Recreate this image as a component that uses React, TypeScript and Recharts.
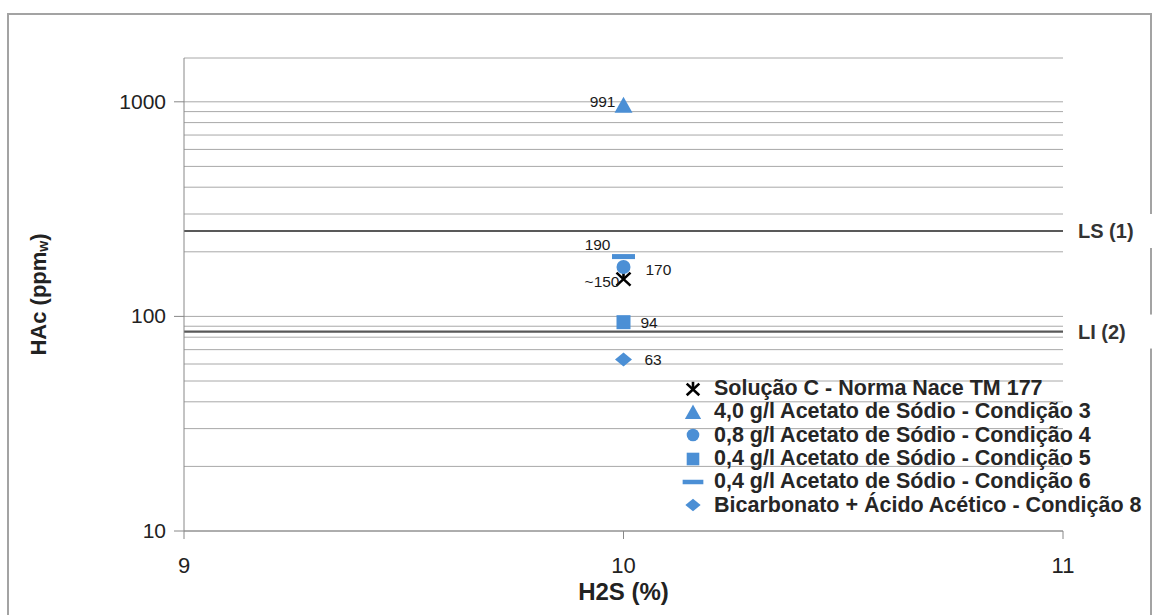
import React from "react";
import {
  ScatterChart,
  Scatter,
  XAxis,
  YAxis,
  CartesianGrid,
  ReferenceLine,
  Legend,
} from "recharts";

// H2S content shared by every test
const h2sPercent = 10;

const seriesNames = [
  "Solução C - Norma Nace TM 177",
  "4,0 g/l Acetato de Sódio - Condição 3",
  "0,8 g/l Acetato de Sódio - Condição 4",
  "0,4 g/l Acetato de Sódio - Condição 5",
  "0,4 g/l Acetato de Sódio - Condição 6",
  "Bicarbonato + Ácido Acético - Condição 8",
];
const hacValues = [150, 991, 170, 94, 190, 63];
const valueLabels = ["~150", "991", "170", "94", "190", "63"];
const markerKinds = ["star", "triangle", "circle", "square", "dash", "diamond"];

const limitValues = [250, 85];
const limitLabels = ["LS (1)", "LI (2)"];

const xTicks = [9, 10, 11];
const yMajorTicks = [10, 100, 1000];
const yTicks = [
  10, 20, 30, 40, 50, 60, 70, 80, 90,
  100, 200, 300, 400, 500, 600, 700, 800, 900,
  1000, 1600,
];

const BLUE = "#4B8FD5";
const FONT = "'Liberation Sans', Arial, sans-serif";

// label offsets around each point (dx, dy, anchor)
const labelPlacement: Record<string, { dx: number; dy: number; anchor: "start" | "end" }> = {
  "~150": { dx: -4, dy: 8, anchor: "end" },
  "991": { dx: -8, dy: 4, anchor: "end" },
  "170": { dx: 22, dy: 8, anchor: "start" },
  "94": { dx: 17, dy: 6, anchor: "start" },
  "190": { dx: -13, dy: -7, anchor: "end" },
  "63": { dx: 21, dy: 6, anchor: "start" },
};

const drawMarker = (kind: string, cx: number, cy: number, s = 1) => {
  switch (kind) {
    case "star":
      return (
        <g stroke="#000" strokeWidth={2.6} strokeLinecap="butt">
          <line x1={cx - 7 * s} y1={cy - 6 * s} x2={cx + 7 * s} y2={cy + 7 * s} />
          <line x1={cx + 7 * s} y1={cy - 6 * s} x2={cx - 7 * s} y2={cy + 7 * s} />
          <line x1={cx} y1={cy - 8 * s} x2={cx} y2={cy + 1 * s} />
        </g>
      );
    case "triangle":
      return (
        <polygon
          points={`${cx},${cy - 6 * s} ${cx - 9 * s},${cy + 10 * s} ${cx + 9 * s},${cy + 10 * s}`}
          fill={BLUE}
        />
      );
    case "circle":
      return <circle cx={cx} cy={cy} r={7 * s} fill={BLUE} />;
    case "square":
      return <rect x={cx - 7 * s} y={cy - 7 * s} width={14 * s} height={14 * s} fill={BLUE} />;
    case "dash":
      return <rect x={cx - 11.5 * s} y={cy - 2.5 * s} width={23 * s} height={5 * s} fill={BLUE} />;
    default:
      return (
        <polygon
          points={`${cx},${cy - 7 * s} ${cx + 8.5 * s},${cy} ${cx},${cy + 7 * s} ${cx - 8.5 * s},${cy}`}
          fill={BLUE}
        />
      );
  }
};

const YTick = (props: any) => {
  const { x, y, payload } = props;
  if (!yMajorTicks.includes(payload.value)) return <g />;
  return (
    <g>
      <line x1={x - 10} y1={y} x2={x} y2={y} stroke="#888" />
      <text x={x - 18} y={y + 7} textAnchor="end" fontSize={21} fill="#222" fontFamily={FONT}>
        {payload.value}
      </text>
    </g>
  );
};

const XTick = (props: any) => {
  const { x, y, payload } = props;
  return (
    <g>
      <line x1={x} y1={y} x2={x} y2={y + 8} stroke="#888" />
      <text x={x} y={y + 42} textAnchor="middle" fontSize={22} fill="#222" fontFamily={FONT}>
        {payload.value}
      </text>
    </g>
  );
};

const renderLegend = () => (
  <div style={{ fontFamily: FONT, fontWeight: "bold", fontSize: 21.5, color: "#262626" }}>
    {seriesNames.map((name, i) => (
      <div key={name} style={{ display: "flex", alignItems: "center", height: 23.3, whiteSpace: "nowrap" }}>
        <svg width={26} height={22} style={{ marginRight: 8, flexShrink: 0 }}>
          {drawMarker(markerKinds[i], 13, markerKinds[i] === "triangle" ? 9 : 11, 0.9)}
        </svg>
        <span>{name}</span>
      </div>
    ))}
  </div>
);

const limitLabel = (text: string) => (props: any) => {
  const { viewBox } = props;
  const x = viewBox.x + viewBox.width;
  const y = viewBox.y;
  return (
    <g>
      <rect x={x + 6} y={y - 17} width={92} height={34} fill="#fff" />
      <text x={x + 15} y={y + 7} fontSize={20} fontWeight="bold" fill="#333" fontFamily={FONT}>
        {text}
      </text>
    </g>
  );
};

export default function App() {
  return (
    <div style={{ position: "absolute", left: 0, top: 0, width: 1156, height: 615, background: "#fff", overflow: "hidden" }}>
      <div
        style={{
          position: "absolute",
          left: 7,
          top: 13,
          width: 1141,
          height: 700,
          border: "2px solid #a3a3a3",
        }}
      />
      <div style={{ position: "absolute", left: 0, top: 0 }}>
        <ScatterChart width={1156} height={615} margin={{ top: 58, right: 93, bottom: 0, left: 0 }}>
          <CartesianGrid vertical={false} stroke="#a8a8a8" />
          <XAxis
            type="number"
            dataKey="x"
            domain={[9, 11]}
            ticks={xTicks}
            interval={0}
            height={84}
            tickSize={0}
            tickMargin={0}
            tick={<XTick />}
            axisLine={{ stroke: "#888" }}
            label={(p: any) => (
              <text
                x={p.viewBox.x + p.viewBox.width / 2}
                y={600}
                textAnchor="middle"
                fontSize={24}
                fontWeight="bold"
                fill="#222"
                fontFamily={FONT}
              >
                H2S (%)
              </text>
            )}
          />
          <YAxis
            type="number"
            dataKey="y"
            scale="log"
            domain={[10, 1600]}
            ticks={yTicks}
            interval={0}
            allowDataOverflow
            width={184}
            tickSize={0}
            tickMargin={0}
            tick={<YTick />}
            axisLine={{ stroke: "#888" }}
            label={(p: any) => {
              const cy = p.viewBox.y + p.viewBox.height / 2;
              return (
                <text
                  x={38}
                  y={cy}
                  transform={`rotate(-90, 38, ${cy})`}
                  textAnchor="middle"
                  dominantBaseline="central"
                  fontSize={22}
                  fontWeight="bold"
                  fill="#222"
                  fontFamily={FONT}
                >
                  HAc (ppm
                  <tspan fontSize={14} dy={5}>w</tspan>
                  <tspan dy={-5}>)</tspan>
                </text>
              );
            }}
          />
          {limitValues.map((v, i) => (
            <ReferenceLine
              key={limitLabels[i]}
              y={v}
              stroke="#595959"
              strokeWidth={2.2}
              label={limitLabel(limitLabels[i])}
            />
          ))}
          {seriesNames.map((name, i) => (
            <Scatter
              key={name}
              name={name}
              data={[{ x: h2sPercent, y: hacValues[i], label: valueLabels[i] }]}
              isAnimationActive={false}
              shape={(p: any) => {
                const pl = labelPlacement[p.payload.label];
                return (
                  <g>
                    {drawMarker(markerKinds[i], p.cx, p.cy)}
                    <text
                      x={p.cx + pl.dx}
                      y={p.cy + pl.dy}
                      textAnchor={pl.anchor}
                      fontSize={15.5}
                      fill="#1a1a1a"
                      fontFamily={FONT}
                    >
                      {p.payload.label}
                    </text>
                  </g>
                );
              }}
            />
          ))}
          <Legend
            layout="vertical"
            align="center"
            verticalAlign="middle"
            content={renderLegend}
            wrapperStyle={{ left: 680, top: 377, width: 476, height: 140 }}
          />
        </ScatterChart>
      </div>
    </div>
  );
}
